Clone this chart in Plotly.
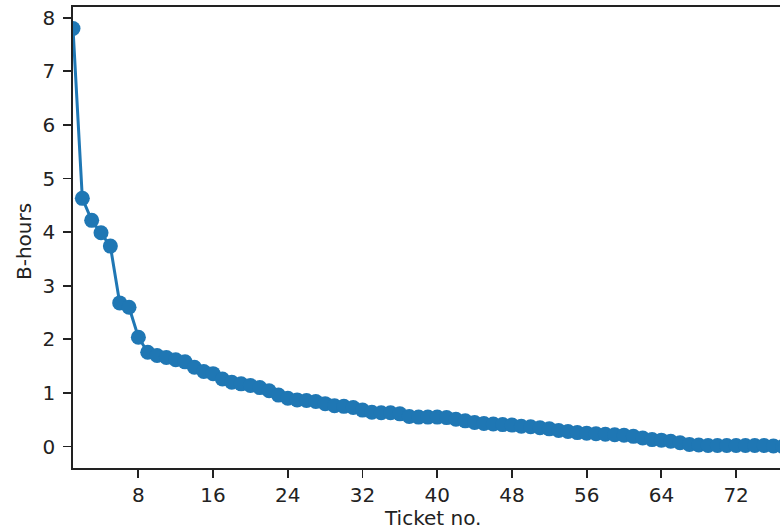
import plotly.graph_objects as go

ticket_no = list(range(1, 78))
b_hours = [
    7.80, 4.63, 4.22, 3.99, 3.74, 2.68, 2.60, 2.04, 1.76, 1.70,
    1.66, 1.62, 1.58, 1.48, 1.40, 1.36, 1.26, 1.20, 1.17, 1.14,
    1.10, 1.04, 0.96, 0.90, 0.87, 0.86, 0.84, 0.80, 0.76, 0.75,
    0.73, 0.68, 0.64, 0.63, 0.63, 0.61, 0.56, 0.55, 0.55, 0.55,
    0.54, 0.51, 0.48, 0.45, 0.43, 0.42, 0.41, 0.40, 0.38, 0.37,
    0.35, 0.33, 0.30, 0.28, 0.26, 0.25, 0.24, 0.23, 0.22, 0.21,
    0.19, 0.16, 0.13, 0.12, 0.10, 0.07, 0.04, 0.03, 0.02, 0.02,
    0.02, 0.02, 0.02, 0.02, 0.02, 0.01, 0.00,
]
x_ticks = [8, 16, 24, 32, 40, 48, 56, 64, 72]
y_ticks = [0, 1, 2, 3, 4, 5, 6, 7, 8]

FONT = "DejaVu Sans"
AX = "#222222"

fig = go.Figure()
fig.add_trace(go.Scatter(
    x=ticket_no, y=b_hours, mode="lines+markers",
    line=dict(color="#1f77b4", width=3),
    marker=dict(color="#1f77b4", size=15, line=dict(width=0)),
    cliponaxis=True, showlegend=False, hoverinfo="skip",
))

fig.update_layout(
    width=780, height=531,
    margin=dict(l=73, r=0, t=7, b=63, autoexpand=False),
    paper_bgcolor="white", plot_bgcolor="white",
    font=dict(family=FONT, size=20, color=AX),
    xaxis=dict(
        range=[1, 76.7], tickvals=x_ticks, showgrid=False, zeroline=False,
        showline=True, linecolor=AX, linewidth=1.8, mirror=True,
        ticks="outside", ticklen=8, tickwidth=1.8, tickcolor=AX,
        tickfont=dict(family=FONT, size=20, color=AX), automargin=False,
    ),
    yaxis=dict(
        range=[-0.40, 8.2], tickvals=y_ticks, showgrid=False, zeroline=False,
        showline=True, linecolor=AX, linewidth=1.8, mirror=False,
        ticks="outside", ticklen=8, tickwidth=1.8, tickcolor=AX,
        tickfont=dict(family=FONT, size=20, color=AX), automargin=False,
        ticklabelstandoff=4,
    ),
    annotations=[
        dict(text="Ticket no.", xref="paper", yref="paper",
             x=(432 - 73) / 707, y=(468 - 531) / 461,
             xanchor="center", yanchor="bottom", showarrow=False, borderpad=0,
             font=dict(family=FONT, size=20, color=AX)),
        dict(text="B-hours", xref="paper", yref="paper",
             x=(24 - 73) / 707, y=(468 - 241) / 461, textangle=-90,
             xanchor="center", yanchor="middle", showarrow=False,
             font=dict(family=FONT, size=20, color=AX)),
    ],
)

fig.write_html(
    "out.html",
    config={"displayModeBar": False, "staticPlot": True},
    post_script="document.body.style.margin='0px';document.body.style.overflow='hidden';",
)
